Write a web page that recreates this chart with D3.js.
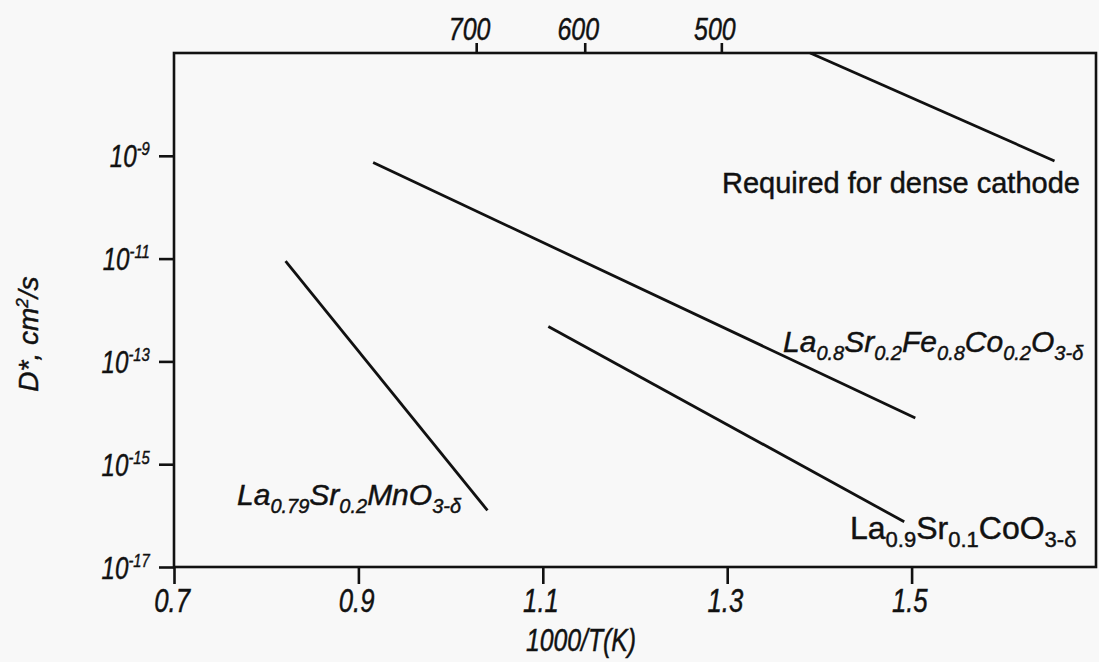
<!DOCTYPE html>
<html>
<head>
<meta charset="utf-8">
<title>Oxygen tracer diffusivity</title>
<script src="https://d3js.org/d3.v7.min.js"></script>
<style>
  body { margin: 0; background: #f8f8f8; }
  svg { font-family: "Liberation Sans", Arial, sans-serif; }
  svg text { stroke: #111; stroke-width: 0.45px; }
</style>
</head>
<body>
<div id="chart"></div>
<script>
// bottom axis: 1000/T(K)
let xTicks = [0.7, 0.9, 1.1, 1.3, 1.5];
// top axis: temperature in °C
let topTicks = [700, 600, 500];
// y axis: powers of ten
let yExps = [-17, -15, -13, -11, -9];

// each line as two end points: 1000/T and log10(D*)
let denseX = [1.39, 1.655],  denseLog = [-7.0, -9.1];
let lsfcX  = [0.916, 1.504], lsfcLog  = [-9.13, -14.1];
let lsmnX  = [0.821, 1.04],  lsmnLog  = [-11.05, -15.9];
let lscoX  = [1.106, 1.492], lscoLog  = [-12.32, -16.12];

// label text, [piece, isSubscript]
let denseLabel = [["Required for dense cathode", 0]];
let lsfcLabel = [["La",0],["0.8",1],["Sr",0],["0.2",1],["Fe",0],["0.8",1],["Co",0],["0.2",1],["O",0],["3-δ",1]];
let lsmnLabel = [["La",0],["0.79",1],["Sr",0],["0.2",1],["MnO",0],["3-δ",1]];
let lscoLabel = [["La",0],["0.9",1],["Sr",0],["0.1",1],["CoO",0],["3-δ",1]];

let margin = {top: 53, right: 3, bottom: 95, left: 174};
let w = 1099 - margin.left - margin.right;
let h = 662 - margin.top - margin.bottom;

let root = d3.select("#chart")
    .append("svg")
      .attr("width", w + margin.left + margin.right)
      .attr("height", h + margin.top + margin.bottom);
let svg = root.append("g")
      .attr("transform", "translate(" + margin.left + "," + margin.top + ")");

let xScale = d3.scaleLinear().domain([0.7, 1.7]).range([0, w]);
let yScale = d3.scaleLog().domain([1e-17, 1e-7]).range([h, 0]);

// frame
svg.append("rect")
    .attr("width", w).attr("height", h)
    .attr("fill", "none").attr("stroke", "#111").attr("stroke-width", 2.6);

function styleAxis(g) {
  g.select(".domain").remove();
  g.selectAll(".tick line").attr("stroke", "#111").attr("stroke-width", 2.6);
  g.selectAll("text").attr("fill", "#111");
}

// bottom axis
let xAxis = d3.axisBottom(xScale).tickValues(xTicks).tickSize(17)
    .tickFormat(d3.format(".1f"));
svg.append("g")
    .attr("transform", "translate(0," + h + ")")
    .call(xAxis)
    .call(styleAxis)
    .call(g => g.selectAll("text")
        .attr("y", 45).attr("dy", null).attr("x", -3)
        .attr("font-size", 33).attr("font-style", "italic")
        .attr("transform", "scale(0.78,1)"));

// top axis (°C)
let topAxis = d3.axisTop(xScale)
    .tickValues(topTicks.map(c => 1000 / (c + 273)))
    .tickSize(10)
    .tickFormat((d, i) => topTicks[i]);
svg.append("g")
    .call(topAxis)
    .call(styleAxis)
    .call(g => g.selectAll("text")
        .attr("y", -13).attr("dy", null).attr("x", -9)
        .attr("font-size", 32).attr("font-style", "italic")
        .attr("transform", "scale(0.78,1)"));

// left axis with 10^n labels
let yAxis = d3.axisLeft(yScale)
    .tickValues(yExps.map(e => Math.pow(10, e)))
    .tickSize(15)
    .tickFormat("");
svg.append("g")
    .call(yAxis)
    .call(styleAxis)
    .call(g => g.selectAll(".tick").each(function(d) {
        let t = d3.select(this).append("text")
            .attr("x", -31).attr("y", 11)
            .attr("text-anchor", "end")
            .attr("fill", "#111")
            .attr("font-style", "italic")
            .attr("transform", "scale(0.78,1)");
        t.append("tspan").attr("font-size", 31).text("10");
        t.append("tspan").attr("font-size", 19).attr("dy", -12)
            .text(Math.round(Math.log10(d)));
    }));

// lines
let lines = [
  {x: denseX, y: denseLog},
  {x: lsfcX, y: lsfcLog},
  {x: lsmnX, y: lsmnLog},
  {x: lscoX, y: lscoLog}
];
let lineGen = d3.line()
    .x(p => xScale(p[0]))
    .y(p => yScale(Math.pow(10, p[1])));
svg.selectAll("path.series")
    .data(lines)
    .enter()
    .append("path")
    .attr("class", "series")
    .attr("d", s => lineGen(s.x.map((v, i) => [v, s.y[i]])))
    .attr("fill", "none")
    .attr("stroke", "#111")
    .attr("stroke-width", 2.8);

// text labels with subscripts
function drawLabel(parts, x, y, italic, size, subSize) {
  let t = svg.append("text")
      .attr("x", x).attr("y", y)
      .attr("fill", "#111")
      .attr("font-style", italic ? "italic" : "normal");
  let shift = 0;
  parts.forEach(p => {
    let s = p[1] ? 8 : 0;
    t.append("tspan")
        .attr("dy", s - shift)
        .attr("font-size", p[1] ? subSize : size)
        .text(p[0]);
    shift = s;
  });
}
drawLabel(denseLabel, 548, 140, false, 29, 19);
drawLabel(lsfcLabel, 609, 299, true, 30, 20);
drawLabel(lsmnLabel, 63, 452, true, 30, 20);
drawLabel(lscoLabel, 676, 486, false, 32, 22);

// axis titles
root.append("text")
    .attr("transform", "translate(" + (margin.left + 407) + ",651) scale(0.8,1)")
    .attr("text-anchor", "middle")
    .attr("font-size", 31).attr("font-style", "italic").attr("fill", "#111")
    .text("1000/T(K)");

let yTitle = root.append("text")
    .attr("transform", "translate(38,334) rotate(-90)")
    .attr("text-anchor", "middle")
    .attr("font-size", 28).attr("font-style", "italic").attr("fill", "#111");
yTitle.append("tspan").text("D*, cm");
yTitle.append("tspan").attr("font-size", 17).attr("dy", -10).text("2");
yTitle.append("tspan").attr("dy", 10).text("/s");
</script>
</body>
</html>
